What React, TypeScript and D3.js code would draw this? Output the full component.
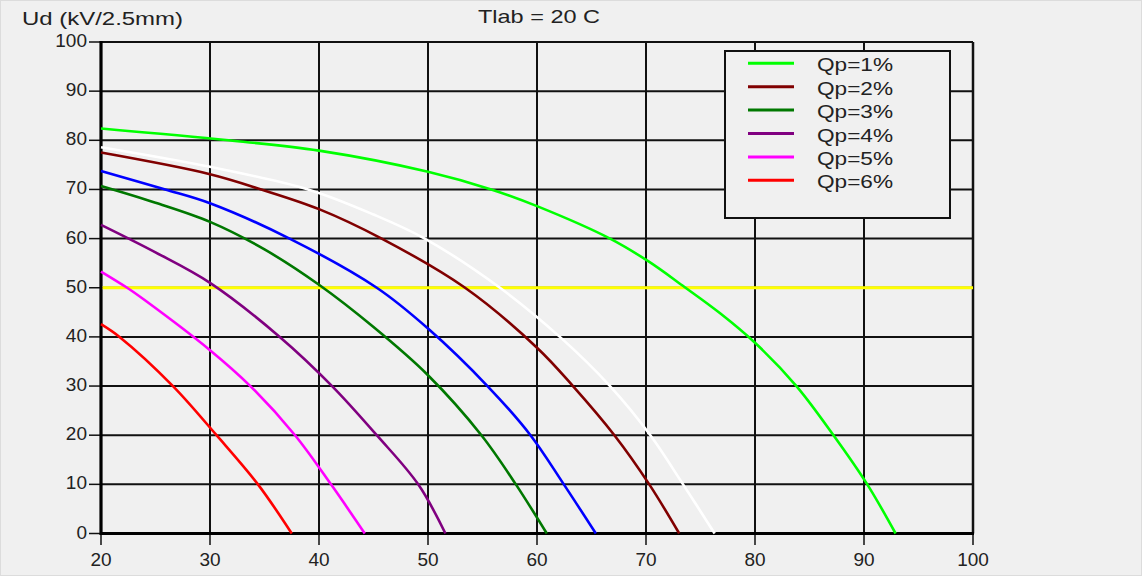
import React from "react";
import * as d3 from "d3";

type Pt = [number, number];

// x: axis value, y: Ud (kV/2.5mm)
const qp1: Pt[] = [[20, 82.4], [31.7, 80], [40, 77.9], [50, 73.6], [55.8, 70], [60, 66.6], [66.7, 60], [70.2, 55.4], [73.5, 50.2], [76.8, 44.8], [80, 38.8], [83.8, 30], [87.2, 20], [90.3, 10], [92.9, 0]];
const whiteCurve: Pt[] = [[20, 78.6], [30, 74.6], [39, 70], [45, 64.9], [49.7, 60], [56.6, 50], [62.1, 40], [66.7, 30], [70.4, 20], [73.4, 10], [76.3, 0]];
const qp2: Pt[] = [[20, 77.5], [30, 73.1], [34.7, 70], [40, 66], [45.75, 60], [53.4, 50], [60, 37.8], [63.3, 30], [67.1, 20], [70.3, 10], [73.05, 0]];
const blueCurve: Pt[] = [[20, 73.75], [25.9, 70], [30, 67.2], [37.3, 60], [45.3, 50], [50, 41.7], [55.5, 29.9], [59.4, 20], [62.4, 10.2], [65.4, 0]];
const qp3: Pt[] = [[20, 70.7], [25, 67.3], [30, 63.4], [35, 57.8], [40, 50.6], [45, 42], [50, 32.2], [54.9, 20], [58, 10.2], [60.9, 0]];
const qp4: Pt[] = [[20, 62.8], [25, 57.2], [30, 51], [36.4, 40], [41.2, 30], [45.3, 20], [49.1, 10], [51.6, 0]];
const qp5: Pt[] = [[20, 53.3], [22.4, 50], [24, 47.5], [30, 37.3], [33.7, 30], [37.8, 20], [41.1, 10], [44.2, 0]];
const qp6: Pt[] = [[20, 42.6], [21.7, 40], [26.6, 30], [30.6, 20], [34.4, 10], [37.5, 0]];

const xTicks = [20, 30, 40, 50, 60, 70, 80, 90, 100];
const yTicks = [0, 10, 20, 30, 40, 50, 60, 70, 80, 90, 100];
const limitLine = 50;

const legendLabels = ["Qp=1%", "Qp=2%", "Qp=3%", "Qp=4%", "Qp=5%", "Qp=6%"];
const legendColors = ["#00ff00", "#800000", "#007800", "#800080", "#ff00ff", "#ff0000"];

const series: { data: Pt[]; color: string }[] = [
  { data: whiteCurve, color: "#ffffff" },
  { data: blueCurve, color: "#0000ff" },
  { data: qp1, color: legendColors[0] },
  { data: qp2, color: legendColors[1] },
  { data: qp3, color: legendColors[2] },
  { data: qp4, color: legendColors[3] },
  { data: qp5, color: legendColors[4] },
  { data: qp6, color: legendColors[5] },
];

const W = 1142;
const H = 576;
const FONT = "'Liberation Sans', Arial, sans-serif";
const TXT = "#222";

export default function App() {
  const x = d3.scaleLinear().domain([20, 100]).range([101, 973]);
  const y = d3.scaleLinear().domain([0, 100]).range([533.5, 42]);
  const line = d3
    .line<Pt>()
    .x((d) => x(d[0]))
    .y((d) => y(d[1]))
    .curve(d3.curveCatmullRom.alpha(0.5));

  const legX = 725;
  const legY = 51;
  const legW = 225;
  const legH = 167;
  const rowY = (i: number) => 63.3 + i * 23.4;

  return (
    <svg
      width={W}
      height={H}
      style={{ position: "absolute", left: 0, top: 0, display: "block" }}
      fontFamily={FONT}
    >
      <rect x={0} y={0} width={W} height={H} fill="#f0f0f0" />
      <rect x={0.5} y={0.5} width={W - 1} height={H - 1} fill="none" stroke="#dcdcdc" />

      {/* grid */}
      {xTicks.slice(1).map((t) => (
        <line key={"gx" + t} x1={x(t)} x2={x(t)} y1={y(0)} y2={y(100)} stroke="#111" strokeWidth={t === 100 ? 2.5 : 2} />
      ))}
      {yTicks.slice(1).map((t) => (
        <line key={"gy" + t} x1={x(20)} x2={x(100)} y1={y(t)} y2={y(t)} stroke="#111" strokeWidth={2} />
      ))}

      {/* ticks */}
      {yTicks.map((t) => (
        <line key={"ty" + t} x1={89} x2={x(20)} y1={y(t)} y2={y(t)} stroke="#111" strokeWidth={1.5} />
      ))}
      {xTicks.map((t) => (
        <line key={"tx" + t} x1={x(t)} x2={x(t)} y1={y(0)} y2={545} stroke="#111" strokeWidth={1.5} />
      ))}

      {/* axes */}
      <line x1={x(20)} x2={x(20)} y1={y(100) - 1} y2={y(0) + 1.5} stroke="#000" strokeWidth={3.2} />
      <line x1={x(20)} x2={x(100) + 1} y1={y(0)} y2={y(0)} stroke="#000" strokeWidth={3} />

      {/* limit line */}
      <line x1={x(20) + 1.5} x2={x(100)} y1={y(limitLine)} y2={y(limitLine)} stroke="#ffff00" strokeWidth={3} />

      {/* curves */}
      {series.map((s, i) => (
        <path key={"s" + i} d={line(s.data) || ""} fill="none" stroke={s.color} strokeWidth={2.6} strokeLinejoin="round" />
      ))}

      {/* tick labels */}
      {yTicks.map((t) => (
        <text key={"ly" + t} x={87} y={y(t) + 5} textAnchor="end" fontSize={19} fill={TXT}>
          {t}
        </text>
      ))}
      {xTicks.map((t) => (
        <text key={"lx" + t} x={x(t)} y={566} textAnchor="middle" fontSize={19} fill={TXT}>
          {t}
        </text>
      ))}

      {/* titles */}
      <text x={22} y={25} fontSize={19} fill={TXT} textLength={161} lengthAdjust="spacingAndGlyphs">
        Ud (kV/2.5mm)
      </text>
      <text x={478} y={23} fontSize={19} fill={TXT} textLength={122} lengthAdjust="spacingAndGlyphs">
        Tlab = 20 C
      </text>

      {/* legend */}
      <rect x={legX} y={legY} width={legW} height={legH} fill="#f0f0f0" stroke="#111" strokeWidth={2} />
      {legendLabels.map((lab, i) => (
        <g key={"lg" + i}>
          <line x1={748} x2={794} y1={rowY(i)} y2={rowY(i)} stroke={legendColors[i]} strokeWidth={3} />
          <text x={817} y={rowY(i) + 8} fontSize={19} fill={TXT} textLength={76} lengthAdjust="spacingAndGlyphs">
            {lab}
          </text>
        </g>
      ))}
    </svg>
  );
}
